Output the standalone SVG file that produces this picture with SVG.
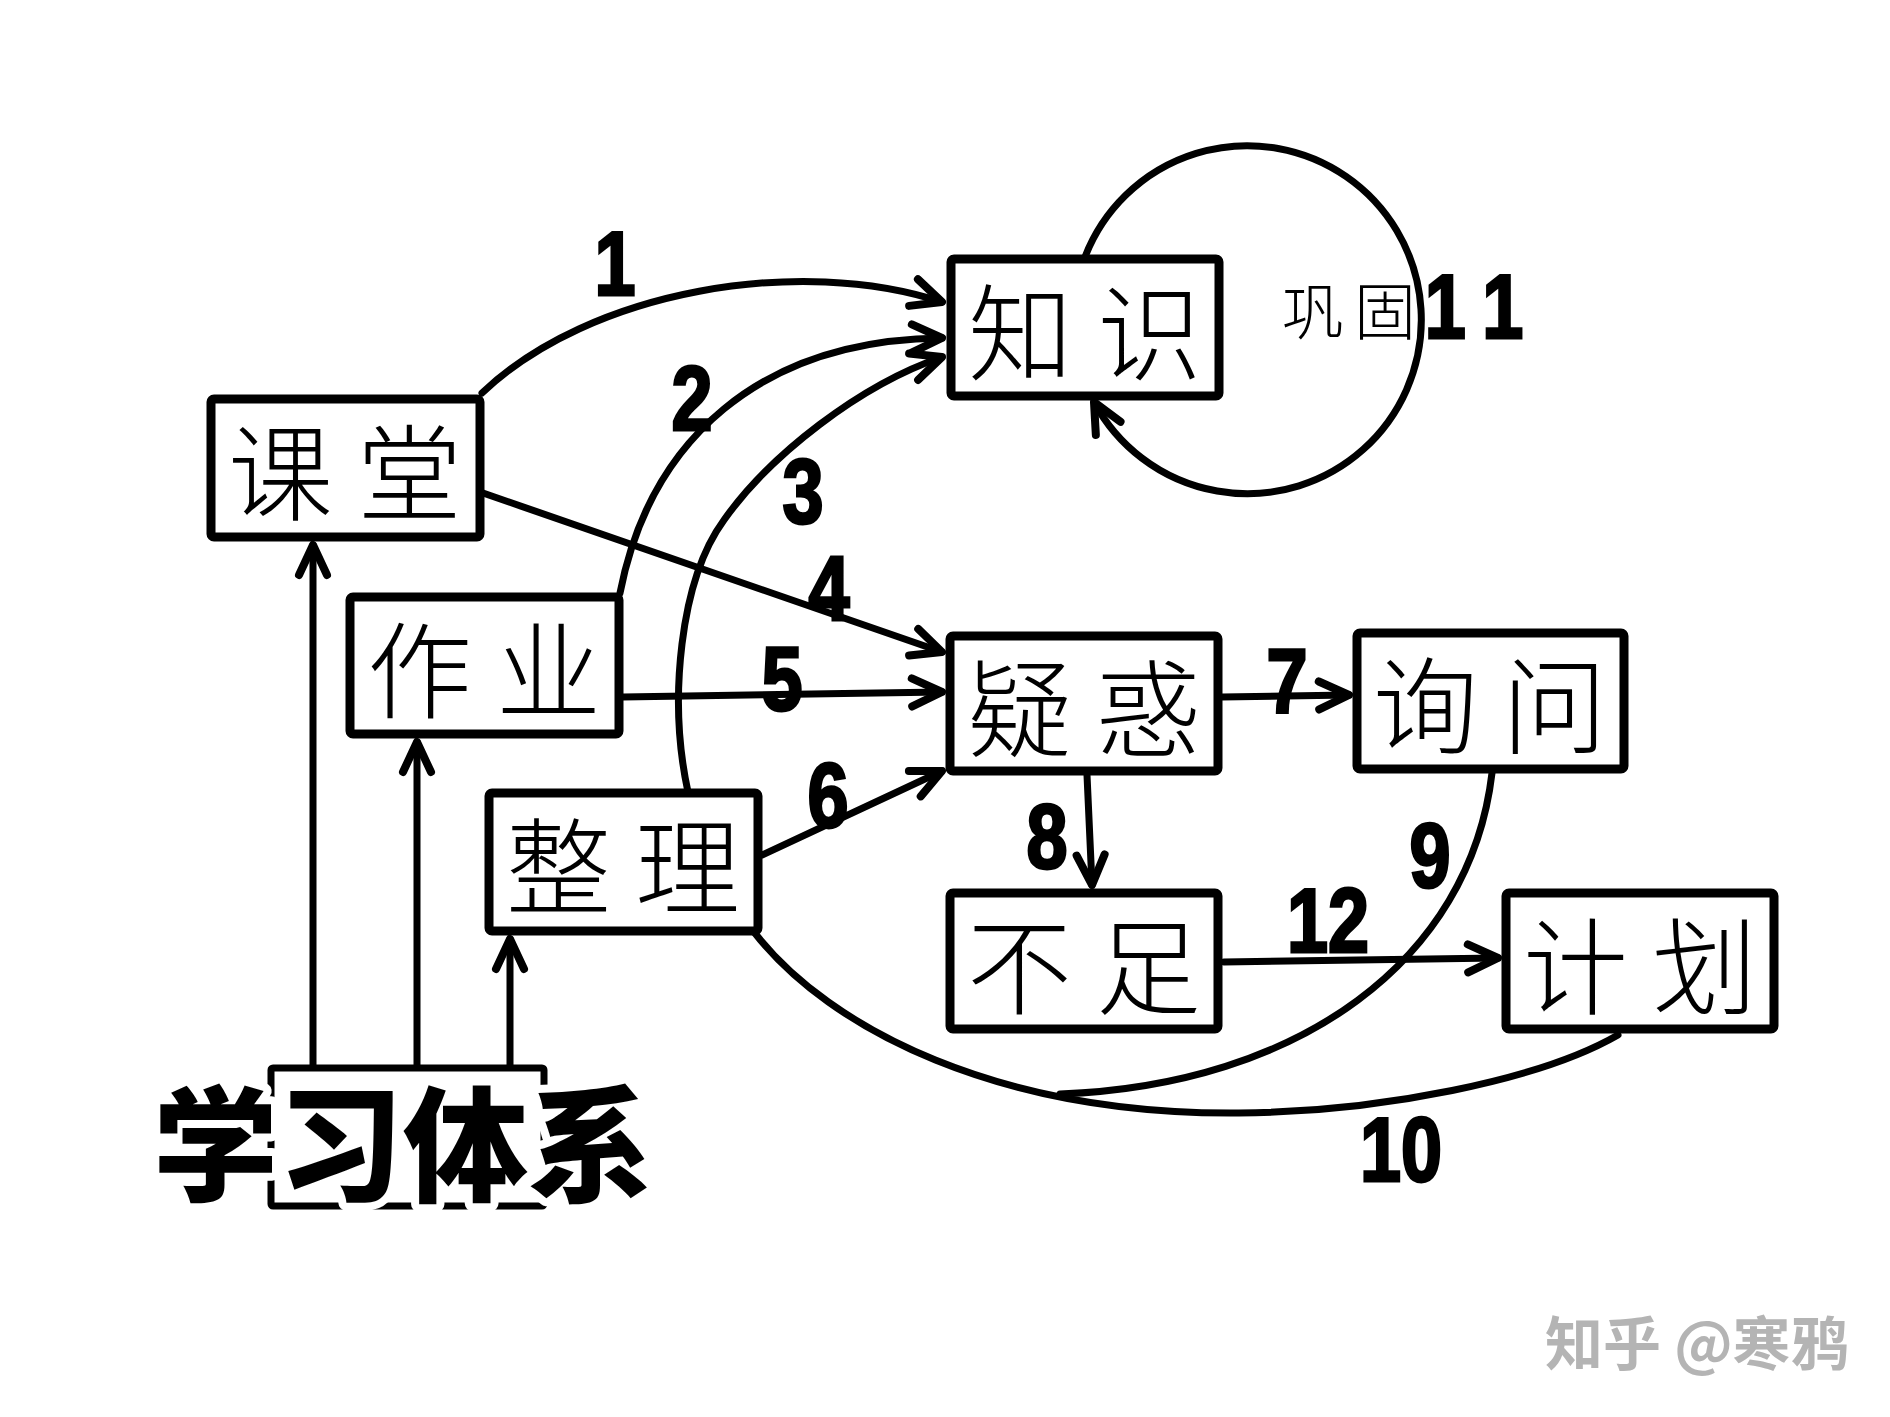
<svg xmlns="http://www.w3.org/2000/svg" width="1890" height="1417" viewBox="0 0 1890 1417">
  <style>
    .box { fill:#fff; stroke:#000; stroke-width:9; }
    .lbl { font-family:"Noto Sans CJK SC","Noto Sans CJK JP",sans-serif; font-size:105px; font-weight:300; letter-spacing:24px; text-anchor:middle; dominant-baseline:central; fill:#000; }
    .num { font-family:"Liberation Sans",Arial,sans-serif; font-weight:bold; font-size:90px; text-anchor:middle; fill:#000; stroke:#000; stroke-width:3; }
    .edge { fill:none; stroke:#000; stroke-width:7; stroke-linecap:round; }
    .arr { marker-end:url(#arrow); }
  </style>
  <defs>
    <marker id="arrow" markerUnits="userSpaceOnUse" markerWidth="60" markerHeight="60" viewBox="-40 -30 60 60" refX="0" refY="0" orient="auto" overflow="visible">
      <path d="M-30,-14 L0,0 L-30,14" fill="none" stroke="#000" stroke-width="8" stroke-linecap="round" stroke-linejoin="round"/>
    </marker>
  </defs>
  <rect width="1890" height="1417" fill="#fff"/>

  <g id="connectors">
    <path class="edge arr" d="M482,393 C590,290 800,255 942,302"/>
    <path class="edge arr" d="M620,593 C650,440 760,340 942,338"/>
    <path class="edge arr" d="M688,792 C668,700 680,580 724,520 C770,455 860,385 942,357"/>
    <path class="edge arr" d="M483,493 L942,652"/>
    <path class="edge arr" d="M623,697 L942,692"/>
    <path class="edge arr" d="M762,855 L942,771"/>
    <path class="edge arr" d="M1222,697 L1349,695"/>
    <path class="edge arr" d="M1087,775 L1092,885"/>
    <path class="edge arr" d="M1224,962 L1498,958"/>
    <path class="edge arr" d="M1085,257 A174,174 0 1 1 1094,402"/>
    <path class="edge" d="M1492,773 C1470,960 1300,1085 1060,1094"/>
    <path class="edge" d="M754,932 C830,1030 1000,1115 1239,1113 C1380,1112 1540,1080 1618,1035"/>
    <path class="edge arr" d="M313,1066 L313,545"/>
    <path class="edge arr" d="M417,1066 L417,742"/>
    <path class="edge arr" d="M510,1066 L510,939"/>
  </g>

  <g id="node-ketang"><rect class="box" x="211" y="399" width="269" height="138" rx="3"/><text class="lbl" x="357" y="466">课堂</text></g>
  <g id="node-zuoye"><rect class="box" x="350" y="597" width="269" height="137" rx="3"/><text class="lbl" x="496" y="664">作业</text></g>
  <g id="node-zhengli"><rect class="box" x="489" y="793" width="269" height="138" rx="3"/><text class="lbl" x="635" y="860">整理</text></g>
  <g id="node-zhishi"><rect class="box" x="951" y="259" width="268" height="137" rx="3"/><text class="lbl" x="1097" y="326">知识</text></g>
  <g id="node-yihuo"><rect class="box" x="950" y="636" width="268" height="135" rx="3"/><text class="lbl" x="1096" y="702">疑惑</text></g>
  <g id="node-xunwen"><rect class="box" x="1357" y="633" width="267" height="136" rx="3"/><text class="lbl" x="1502" y="699">询问</text></g>
  <g id="node-buzu"><rect class="box" x="950" y="893" width="268" height="136" rx="3"/><text class="lbl" x="1096" y="960">不足</text></g>
  <g id="node-jihua"><rect class="box" x="1506" y="893" width="268" height="136" rx="3"/><text class="lbl" x="1652" y="960">计划</text></g>

  <g id="node-xuexitixi">
    <rect x="271" y="1068" width="273" height="138" fill="none" stroke="#000" stroke-width="7" rx="2"/>
    <text x="403" y="1137" font-family="'Noto Sans CJK SC',sans-serif" font-weight="900" font-size="125" text-anchor="middle" dominant-baseline="central" fill="#000" stroke="#fff" stroke-width="16" stroke-linejoin="round" paint-order="stroke">学习体系</text>
  </g>

  <g id="labels">
    <text class="lbl" x="1354" y="308" style="font-size:62px;letter-spacing:10px">巩固</text>
    <text class="num" transform="translate(615,295) scale(0.82,1)">1</text>
    <text class="num" transform="translate(692,430) scale(0.82,1)">2</text>
    <text class="num" transform="translate(803,523) scale(0.82,1)">3</text>
    <text class="num" transform="translate(829,620) scale(0.82,1)">4</text>
    <text class="num" transform="translate(782,710) scale(0.82,1)">5</text>
    <text class="num" transform="translate(828,827) scale(0.82,1)">6</text>
    <text class="num" transform="translate(1287,712) scale(0.82,1)">7</text>
    <text class="num" transform="translate(1047,868) scale(0.82,1)">8</text>
    <text class="num" transform="translate(1430,887) scale(0.82,1)">9</text>
    <text class="num" transform="translate(1401,1181) scale(0.82,1)">10</text>
    <text class="num" transform="translate(1474,338) scale(0.82,1)"><tspan x="-35">1</tspan><tspan x="35">1</tspan></text>
    <text class="num" transform="translate(1328,952) scale(0.82,1)">12</text>
  </g>

  <text x="1545" y="1340" font-family="'Noto Sans CJK SC',sans-serif" font-size="58" font-weight="bold" fill="#b4b4b4" dominant-baseline="central">知乎 @寒鸦</text>
</svg>
